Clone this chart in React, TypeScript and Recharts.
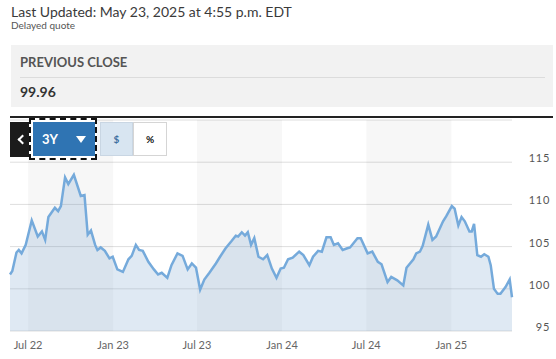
import React from "react";
import { AreaChart, Area, XAxis, YAxis, CartesianGrid, ReferenceArea } from "recharts";

const dates = [
  "2022-05-23","2022-05-28","2022-06-06","2022-06-11","2022-06-17","2022-06-26","2022-07-09","2022-07-22","2022-07-31","2022-08-07",
  "2022-08-14","2022-08-28","2022-09-04","2022-09-10","2022-09-19","2022-09-26","2022-10-08","2022-10-23","2022-10-31","2022-11-07",
  "2022-11-14","2022-11-23","2022-11-28","2022-12-05","2022-12-14","2022-12-24","2022-12-31","2023-01-10","2023-01-22","2023-02-03",
  "2023-02-10","2023-02-19","2023-02-26","2023-03-06","2023-03-18","2023-03-30","2023-04-08","2023-04-16","2023-04-28","2023-05-07",
  "2023-05-20","2023-05-31","2023-06-11","2023-06-20","2023-06-29","2023-07-08","2023-07-17","2023-07-28","2023-08-11","2023-08-20",
  "2023-09-01","2023-09-13","2023-09-23","2023-09-28","2023-10-06","2023-10-13","2023-10-19","2023-10-26","2023-11-02","2023-11-11",
  "2023-11-21","2023-11-30","2023-12-10","2023-12-20","2023-12-29","2024-01-05","2024-01-14","2024-01-24","2024-02-07","2024-02-16",
  "2024-02-29","2024-03-08","2024-03-19","2024-03-27","2024-04-06","2024-04-15","2024-04-22","2024-05-01","2024-05-11","2024-05-21",
  "2024-05-27","2024-06-12","2024-06-19","2024-07-04","2024-07-14","2024-07-26","2024-08-03","2024-08-16","2024-08-24","2024-09-06",
  "2024-09-19","2024-09-26","2024-10-11","2024-10-17","2024-10-25","2024-10-31","2024-11-12","2024-11-21","2024-11-29","2024-12-14",
  "2024-12-21","2025-01-02","2025-01-08","2025-01-16","2025-01-23","2025-01-30","2025-02-09","2025-02-14","2025-02-19","2025-02-26",
  "2025-03-06","2025-03-13","2025-03-22","2025-03-27","2025-04-03","2025-04-11","2025-04-17","2025-04-28","2025-05-07","2025-05-12",
];

const prices = [
  101.7,102.1,104.3,104.6,104.2,105.2,108.1,106.2,106.8,105.8,
  108.5,109.6,109.2,109.8,113.2,112.4,113.5,111.0,111.1,106.4,
  106.9,105.2,104.6,104.9,104.5,103.6,103.8,102.3,102.0,103.5,
  103.9,105.2,104.6,104.5,103.2,102.3,101.7,101.9,101.3,102.8,
  104.2,103.9,102.3,103.0,102.5,99.9,101.1,101.9,103.0,103.8,
  104.8,105.6,106.3,106.2,106.7,106.3,106.7,105.2,106.0,103.8,
  103.5,104.0,102.4,101.3,102.4,102.5,103.5,103.7,104.4,104.0,
  102.8,103.8,104.5,104.4,106.1,106.1,105.2,105.4,104.6,104.8,
  104.9,106.0,106.0,104.2,104.4,103.2,102.9,100.8,101.4,101.0,
  100.4,102.5,103.5,104.2,104.4,105.1,107.6,105.8,106.2,108.0,
  108.6,109.8,109.5,107.5,108.5,108.0,106.8,106.8,107.7,104.0,
  103.8,104.1,103.8,102.8,100.0,99.4,99.4,100.2,101.1,99.0,
];

const xTickDates = ["2022-07-01","2023-01-01","2023-07-01","2024-01-01","2024-07-01","2025-01-01"];
const xTickLabels = ["Jul 22","Jan 23","Jul 23","Jan 24","Jul 24","Jan 25"];
const yTicks = [95, 100, 105, 110, 115];
const bandStarts = ["2022-07-01","2023-07-01","2024-07-01"];
const bandEnds = ["2023-01-01","2024-01-01","2025-01-01"];
const domainStart = "2022-05-23";
const domainEnd = "2025-05-12";

const data = dates.map((d, i) => ({ t: Date.parse(d), v: prices[i] }));
const xTicks = xTickDates.map((d) => Date.parse(d));
const labelFor = (t: number) => {
  const i = xTicks.indexOf(t);
  return i >= 0 ? xTickLabels[i] : "";
};

const XTick = (props: any) => {
  const { x, y, payload } = props;
  return (
    <text x={x} y={y + 10} textAnchor="middle" fontSize={11} fill="#666" fontFamily="Lato, sans-serif">
      {labelFor(payload.value)}
    </text>
  );
};

const YTick = (props: any) => {
  const { y, payload } = props;
  return (
    <text x={550} y={y} textAnchor="end" fontSize={11} fill="#555" letterSpacing={0.7} fontFamily="Lato, sans-serif">
      {payload.value}
    </text>
  );
};

export default function App() {
  return (
    <div style={{ position: "absolute", left: 0, top: 0, width: 556, height: 359, overflow: "hidden", background: "#fff", fontFamily: "Lato, sans-serif" }}>
      <div style={{ position: "absolute", left: 0, top: 0 }}>
        <AreaChart width={556} height={359} data={data} margin={{ top: 120, right: 0, left: 10, bottom: 0 }}>
          <CartesianGrid vertical={false} stroke="#dedede" />
          {bandStarts.map((s, i) => (
            <ReferenceArea key={s} x1={Date.parse(s)} x2={Date.parse(bandEnds[i])} y1={95} y2={120} fill="#000" fillOpacity={0.03} stroke="none" ifOverflow="extendDomain" />
          ))}
          <XAxis dataKey="t" type="number" scale="time" domain={[Date.parse(domainStart), Date.parse(domainEnd)]} ticks={xTicks} tick={<XTick />} axisLine={false} tickLine={false} height={28} interval={0} />
          <YAxis orientation="right" domain={[95, 120]} ticks={yTicks} tick={<YTick />} axisLine={false} tickLine={false} width={44} interval={0} />
          <Area type="linear" dataKey="v" stroke="#75aadb" strokeWidth={2.5} fill="#7fa9d1" fillOpacity={0.25} dot={false} activeDot={false} isAnimationActive={false} />
        </AreaChart>
      </div>
      <div style={{ position: "absolute", left: 0, top: 0, width: 556, height: 116, background: "#fff" }} />
      <div style={{ position: "absolute", left: 11, top: 3, fontSize: 14, color: "#3a3a3a", whiteSpace: "nowrap" }}>Last Updated: May 23, 2025 at 4:55 p.m. EDT</div>
      <div style={{ position: "absolute", left: 11, top: 19, fontSize: 10, color: "#555", whiteSpace: "nowrap" }}>Delayed quote</div>
      <div style={{ position: "absolute", left: 11, top: 45, width: 542, height: 62, background: "#f2f2f2" }}>
        <div style={{ position: "absolute", left: 9, top: 9, fontSize: 13, fontWeight: 700, color: "#555" }}>PREVIOUS CLOSE</div>
        <div style={{ position: "absolute", left: 9, right: 8, top: 32, height: 1, background: "#dcdcdc" }} />
        <div style={{ position: "absolute", left: 9, top: 38, fontSize: 14, fontWeight: 700, color: "#333" }}>99.96</div>
      </div>
      <div style={{ position: "absolute", left: 10, top: 116, width: 543, height: 2, background: "#222" }} />
      <div style={{ position: "absolute", left: 10, top: 122, width: 20, height: 35, background: "#1b1b1b" }}>
        <div style={{ position: "absolute", left: 9, top: 14, width: 5, height: 5, borderLeft: "2px solid #fff", borderBottom: "2px solid #fff", transform: "rotate(45deg)" }} />
      </div>
      <div style={{ position: "absolute", left: 29, top: 118, width: 64, height: 38, border: "2px dashed #111", background: "#fff" }} />
      <div style={{ position: "absolute", left: 33, top: 122, width: 62, height: 34, background: "#2f74b3", color: "#fff" }}>
        <div style={{ position: "absolute", left: 9, top: 9, fontSize: 13, fontWeight: 700 }}>3Y</div>
        <div style={{ position: "absolute", left: 43, top: 14, width: 0, height: 0, borderLeft: "5px solid transparent", borderRight: "5px solid transparent", borderTop: "7px solid #fff" }} />
      </div>
      <div style={{ position: "absolute", left: 100, top: 122, width: 33, height: 34, background: "#d8e5f1", border: "1px solid #c9d6e3", boxSizing: "border-box", color: "#3f6f9f", fontSize: 10, fontWeight: 700, display: "flex", alignItems: "center", justifyContent: "center" }}>$</div>
      <div style={{ position: "absolute", left: 133, top: 122, width: 34, height: 34, background: "#fff", border: "1px solid #d5d5d5", boxSizing: "border-box", color: "#111", fontSize: 10, fontWeight: 700, display: "flex", alignItems: "center", justifyContent: "center" }}>%</div>
    </div>
  );
}
